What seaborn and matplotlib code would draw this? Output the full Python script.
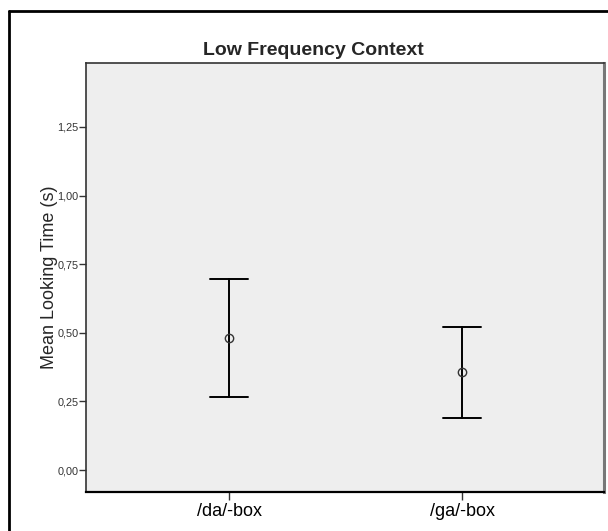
import matplotlib
matplotlib.use("Agg")
import matplotlib.pyplot as plt
from matplotlib.lines import Line2D
import seaborn as sns
import pandas as pd

# Data
categories = ["/da/-box", "/ga/-box"]
means = [0.481, 0.357]
ci_low = [0.266, 0.190]
ci_high = [0.696, 0.521]
y_ticks = [0.0, 0.25, 0.5, 0.75, 1.0, 1.25]
y_tick_labels = ["0,00", "0,25", "0,50", "0,75", "1,00", "1,25"]

sns.set_theme(style="white")
plt.rcParams["font.family"] = ["Liberation Sans", "DejaVu Sans"]

rows = []
for c, lo, m, hi in zip(categories, ci_low, means, ci_high):
    for v in (lo, m, hi):
        rows.append({"box": c, "time": v})
df = pd.DataFrame(rows)

fig = plt.figure(figsize=(6.08, 5.31), dpi=100)
ax = fig.add_axes([86 / 608, (531 - 492) / 531, 518 / 608, (492 - 63) / 531])
ax.set_facecolor("#eeeeee")

sns.pointplot(data=df, x="box", y="time", order=categories,
              estimator="median", errorbar=("pi", 100),
              capsize=0.16, linestyle="none", marker="o", color="black",
              err_kws={"linewidth": 1.4, "color": "black"}, ax=ax)

for ln in ax.lines:
    if ln.get_marker() == "o":
        ln.set_markerfacecolor("none")
        ln.set_markeredgecolor("#333333")
        ln.set_markersize(6)
        ln.set_markeredgewidth(1.0)
        ln.set_zorder(5)

ax.set_xlim(-0.614, 1.609)
ax.set_ylim(-0.08, 1.483)
ax.set_yticks(y_ticks)
ax.set_yticklabels(y_tick_labels)
ax.tick_params(axis="y", direction="out", length=5, width=1, color="#333333",
               labelsize=7.8, labelcolor="#333333", pad=0.5, left=True)
ax.tick_params(axis="x", direction="out", length=6, width=1, color="#333333",
               labelsize=13, labelcolor="black", pad=2, bottom=True)
ax.set_xlabel("")
ax.set_ylabel("Mean Looking Time (s)", fontsize=13)
ax.yaxis.set_label_coords(-0.054, 0.5)

for side in ["left", "top"]:
    ax.spines[side].set_color("#333333")
    ax.spines[side].set_linewidth(1.2)
ax.spines["bottom"].set_color("black")
ax.spines["bottom"].set_linewidth(1.6)
ax.spines["right"].set_color("#777777")
ax.spines["right"].set_linewidth(2.2)

fig.text(313 / 608, 1 - 55 / 531, "Low Frequency Context", ha="center", va="baseline",
         fontsize=14, fontweight="bold")

# outer frame (top and left edges visible)
fig.add_artist(Line2D([9 / 608, 1.0], [1 - 11 / 531, 1 - 11 / 531],
                      transform=fig.transFigure, color="black", linewidth=2))
fig.add_artist(Line2D([9 / 608, 9 / 608], [0.0, 1 - 11 / 531],
                      transform=fig.transFigure, color="black", linewidth=2))

fig.savefig("out.png", dpi=100)
